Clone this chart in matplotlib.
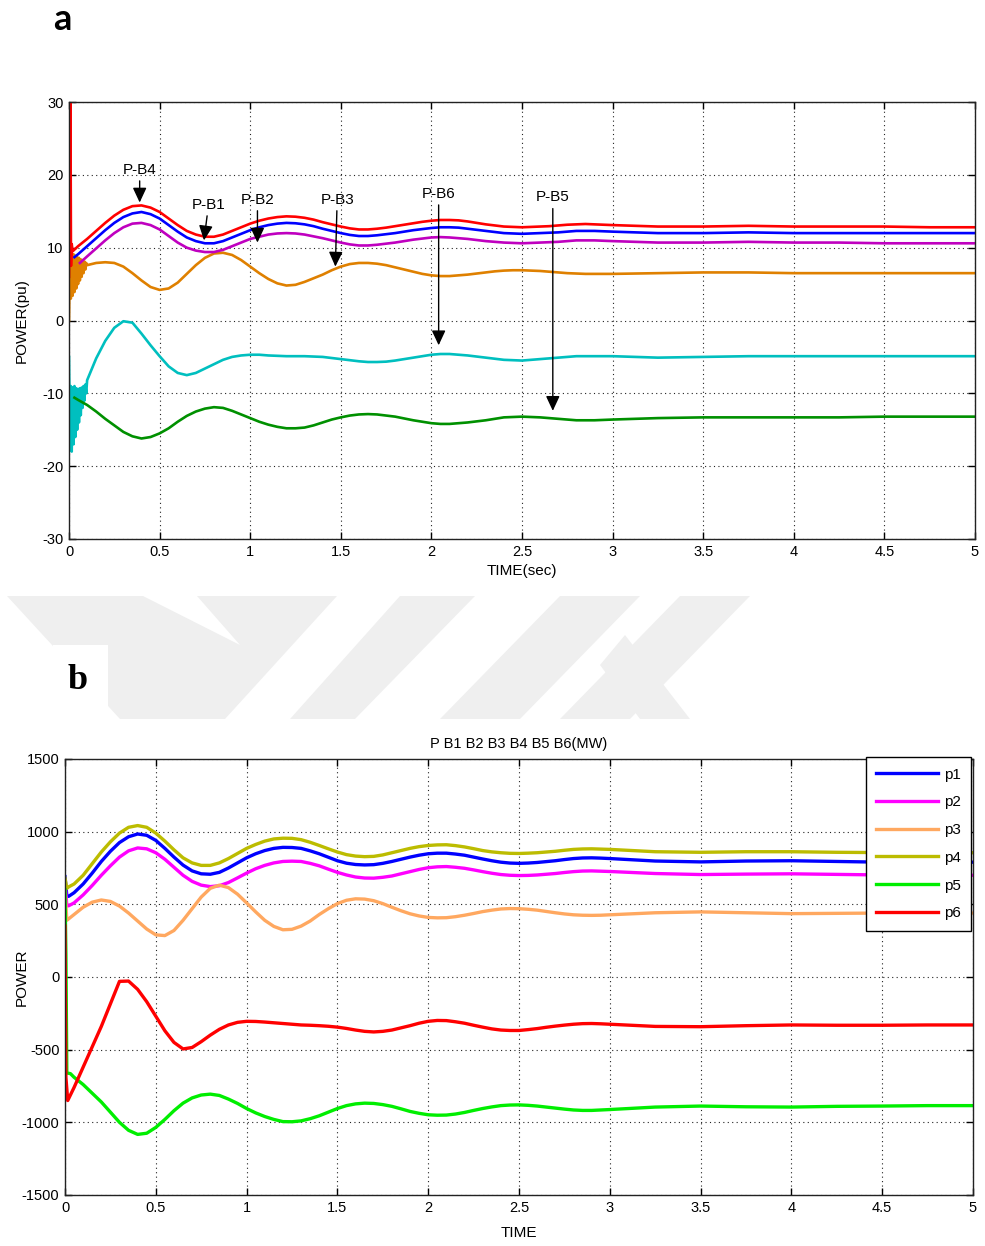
import matplotlib
matplotlib.use('Agg')
import matplotlib.pyplot as plt
from matplotlib.patches import Polygon, Rectangle
from matplotlib.lines import Line2D

plt.rcParams['font.family'] = ['Liberation Sans', 'DejaVu Sans']
plt.rcParams['axes.unicode_minus'] = False

# common time grid (sec) for the smooth part of every trace
t_grid = [0.1, 0.15, 0.2, 0.25, 0.3, 0.35, 0.4, 0.45, 0.5, 0.55, 0.6, 0.65, 0.7, 0.75, 0.8,
          0.85, 0.9, 0.95, 1.0,
          1.05, 1.1, 1.15, 1.2, 1.25, 1.3, 1.35, 1.4, 1.45, 1.5, 1.55, 1.6, 1.65, 1.7, 1.75,
          1.8, 1.85, 1.9, 1.95, 2.0, 2.05, 2.1, 2.15, 2.2, 2.25, 2.3, 2.35, 2.4, 2.45, 2.5,
          2.55, 2.6, 2.65, 2.7, 2.75, 2.8, 2.85, 2.9, 2.95, 3.0,
          3.25, 3.5, 3.75, 4.0, 4.25, 4.5, 4.75, 5.0]
# fine time steps for the start-up ripple
t_osc = [0.0, 0.005, 0.01, 0.015, 0.02, 0.025, 0.03, 0.035, 0.04, 0.045, 0.05, 0.055, 0.06,
         0.065, 0.07, 0.075, 0.08, 0.085, 0.09, 0.095]

# ---- panel a : power in pu ----
pb4_t0 = [0.0, 0.008, 0.011, 0.015, 0.02, 0.05]
pb4_v0 = [6.0, 31.0, 7.5, 10.5, 9.5, 10.2]
pb4 = [11.2, 12.3, 13.4, 14.4, 15.2, 15.7, 15.8, 15.5, 14.9, 14.0, 13.1, 12.3, 11.8, 11.5, 11.5,
       11.8, 12.3, 12.8, 13.3,
       13.7, 14.0, 14.2, 14.3, 14.25, 14.1, 13.85, 13.5, 13.2, 12.9, 12.65, 12.5, 12.5, 12.6,
       12.75, 12.95, 13.15, 13.35, 13.55, 13.7, 13.8, 13.8, 13.75, 13.6, 13.4, 13.2, 13.05,
       12.9, 12.85, 12.8, 12.85, 12.9, 12.95, 13.05, 13.15, 13.2, 13.25, 13.2, 13.15, 13.1,
       12.9, 12.9, 13.0, 12.9, 12.9, 12.9, 12.8, 12.8]

pb1_t0 = [0.03, 0.05]
pb1_v0 = [8.7, 9.1]
pb1 = [10.2, 11.3, 12.4, 13.4, 14.2, 14.7, 14.9, 14.6, 14.0, 13.1, 12.2, 11.4, 10.9, 10.6, 10.6,
       10.9, 11.4, 11.9, 12.4,
       12.8, 13.1, 13.3, 13.4, 13.35, 13.2, 12.95, 12.6, 12.3, 12.0, 11.75, 11.6, 11.6, 11.7,
       11.85, 12.0, 12.2, 12.4, 12.55, 12.7, 12.8, 12.8, 12.75, 12.6, 12.45, 12.3, 12.15,
       12.0, 11.95, 11.9, 11.95, 12.0, 12.05, 12.1, 12.2, 12.3, 12.3, 12.3, 12.25, 12.2,
       12.0, 12.0, 12.1, 12.0, 12.0, 12.0, 12.0, 12.0]

pb2_t0 = [0.06]
pb2_v0 = [7.9]
pb2 = [8.8, 9.9, 11.0, 12.0, 12.8, 13.3, 13.4, 13.1, 12.5, 11.6, 10.7, 10.0, 9.6, 9.4, 9.4,
       9.7, 10.2, 10.7, 11.2,
       11.5, 11.8, 11.95, 12.0, 11.95, 11.8, 11.55, 11.3, 11.0, 10.7, 10.45, 10.3, 10.3, 10.4,
       10.55, 10.7, 10.9, 11.1, 11.25, 11.4, 11.45, 11.4, 11.3, 11.2, 11.05, 10.9, 10.8,
       10.7, 10.65, 10.6, 10.65, 10.7, 10.75, 10.8, 10.9, 11.0, 11.0, 11.0, 10.95, 10.9,
       10.7, 10.7, 10.8, 10.7, 10.7, 10.6, 10.6, 10.6]

pb3_v0 = [0.0, 9.0, 3.0, 9.2, 3.4, 9.1, 3.9, 8.9, 4.4, 8.7, 5.0, 8.6, 5.5, 8.4, 6.0, 8.3, 6.5,
          8.1, 7.0, 7.9]
pb3 = [7.6, 7.9, 8.0, 7.9, 7.4, 6.5, 5.5, 4.6, 4.2, 4.4, 5.2, 6.4, 7.6, 8.6, 9.2, 9.3, 9.0,
       8.3, 7.4,
       6.5, 5.7, 5.1, 4.8, 4.9, 5.3, 5.8, 6.3, 6.9, 7.4, 7.75, 7.9, 7.9, 7.8, 7.6, 7.3, 7.0,
       6.7, 6.4, 6.2, 6.1, 6.1, 6.2, 6.3, 6.45, 6.6, 6.75, 6.85, 6.9, 6.9, 6.85, 6.8, 6.7,
       6.6, 6.5, 6.45, 6.4, 6.4, 6.4, 6.4,
       6.5, 6.6, 6.6, 6.5, 6.5, 6.5, 6.5, 6.5]

pb6_v0 = [-5.0, -17.5, -9.0, -18.0, -9.2, -17.0, -9.0, -16.0, -9.3, -15.0, -9.4, -14.0, -9.3,
          -13.0, -9.2, -12.0, -9.0, -11.0, -8.8, -10.0]
pb6 = [-8.2, -5.2, -2.8, -1.0, -0.1, -0.3, -1.8, -3.4, -4.9, -6.3, -7.2, -7.5, -7.2, -6.6,
       -6.0, -5.4, -5.0, -4.8, -4.7,
       -4.7, -4.8, -4.85, -4.9, -4.9, -4.9, -4.95, -5.0, -5.15, -5.3, -5.45, -5.6, -5.7, -5.7,
       -5.65, -5.5, -5.3, -5.1, -4.9, -4.7, -4.6, -4.6, -4.7, -4.8, -4.95, -5.1, -5.25, -5.4,
       -5.45, -5.5, -5.4, -5.3, -5.2, -5.1, -5.0, -4.9, -4.9, -4.9, -4.9, -4.9,
       -5.1, -5.0, -4.9, -4.9, -4.9, -4.9, -4.9, -4.9]

pb5_t0 = [0.03, 0.05]
pb5_v0 = [-10.6, -10.9]
pb5 = [-11.6, -12.5, -13.5, -14.4, -15.3, -15.9, -16.2, -16.0, -15.5, -14.8, -13.9, -13.1,
       -12.5, -12.1, -11.9, -12.0, -12.4, -12.9, -13.4,
       -13.9, -14.3, -14.6, -14.8, -14.8, -14.7, -14.4, -14.0, -13.6, -13.3, -13.05, -12.9,
       -12.85, -12.9, -13.05, -13.2, -13.45, -13.7, -13.9, -14.1, -14.2, -14.2, -14.1, -14.0,
       -13.85, -13.7, -13.5, -13.3, -13.25, -13.2, -13.25, -13.3, -13.4, -13.5, -13.6, -13.7,
       -13.7, -13.7, -13.65, -13.6,
       -13.4, -13.3, -13.3, -13.3, -13.3, -13.2, -13.2, -13.2]

# ---- panel b : power in MW ----
t0_b = [0.0, 0.01, 0.02, 0.05]
p1_v0 = [690, 560, 555, 580]
p1 = [640, 715, 795, 865, 925, 965, 984, 975, 940, 885, 825, 770, 730, 710, 707, 720, 750,
      785, 820,
      848, 870, 885, 892, 891, 885, 868, 848, 824, 800, 783, 774, 771, 773, 782, 795, 810,
      825, 838, 848, 852, 852, 846, 838, 825, 812, 800, 790, 784, 782, 784, 788, 794, 800,
      808, 815, 819, 820, 818, 815,
      798, 792, 798, 800, 795, 790, 790, 790]
p2_v0 = [650, 490, 490, 510]
p2 = [565, 630, 700, 765, 825, 868, 888, 882, 855, 810, 755, 700, 658, 632, 622, 628, 650,
      682, 715,
      745, 768, 785, 795, 797, 795, 782, 765, 742, 720, 702, 688, 681, 680, 686, 695, 710,
      725, 740, 752, 758, 760, 755, 748, 737, 725, 714, 705, 700, 698, 699, 702, 707, 712,
      719, 725, 729, 730, 728, 726,
      712, 705, 708, 710, 706, 702, 700, 700]
p3_v0 = [600, 390, 400, 430]
p3 = [480, 515, 530, 520, 488, 440, 385, 330, 290, 285, 320, 390, 470, 550, 610, 632, 615,
      570, 510,
      448, 390, 348, 325, 328, 350, 385, 430, 470, 505, 528, 538, 536, 525, 505, 480, 456,
      435, 420, 410, 407, 408, 415, 425, 437, 450, 460, 468, 471, 470, 466, 460, 451, 442,
      434, 428, 425, 424, 425, 428,
      442, 448, 442, 436, 438, 440, 440, 440]
p4_v0 = [680, 610, 620, 640]
p4 = [700, 780, 860, 930, 990, 1030, 1042, 1030, 990, 935, 875, 820, 785, 768, 768, 785, 815,
      850, 885,
      912, 935, 950, 955, 954, 945, 927, 905, 882, 860, 842, 832, 828, 830, 840, 855, 870,
      885, 897, 905, 909, 910, 904, 895, 883, 870, 861, 855, 851, 850, 852, 855, 860, 865,
      872, 878, 881, 882, 880, 878,
      862, 858, 862, 862, 858, 856, 855, 855]
p5_t0 = [0.0, 0.005, 0.01, 0.03, 0.05]
p5_v0 = [600, 150, -660, -665, -690]
p5 = [-740, -800, -860, -930, -1000, -1055, -1083, -1075, -1035, -980, -920, -868, -832, -812,
      -806, -815, -840, -870, -905,
      -935, -960, -980, -995, -996, -990, -975, -955, -930, -905, -885, -873, -868, -870,
      -878, -890, -907, -925, -938, -948, -951, -950, -943, -932, -918, -905, -894, -885,
      -881, -880, -883, -888, -895, -902, -909, -915, -918, -918, -915, -912,
      -895, -888, -893, -895, -890, -888, -885, -885]
p6_t0 = [0.0, 0.005, 0.015, 0.05]
p6_v0 = [350, -690, -850, -760]
p6 = [-620, -480, -340, -185, -30, -28, -85, -170, -270, -370, -450, -495, -485, -445, -400,
      -360, -330, -312, -305,
      -306, -310, -315, -320, -325, -330, -332, -335, -339, -345, -354, -365, -374, -378,
      -374, -365, -350, -335, -318, -305, -299, -300, -308, -318, -332, -345, -357, -365,
      -368, -368, -362, -355, -346, -338, -331, -325, -321, -320, -322, -325,
      -340, -342, -335, -330, -332, -332, -330, -330]

labels_b = ['p1', 'p2', 'p3', 'p4', 'p5', 'p6']

W, H = 985, 1246
fig = plt.figure(figsize=(W / 100, H / 100), dpi=100)

def fpx(x, y):
    # figure pixel (top-left origin) -> figure fraction
    return (x / W, 1 - y / H)

# faint watermark behind the panels
wm = [[(7, 596), (143, 596), (240, 645), (197, 596), (337, 596), (225, 719), (120, 719)],
      [(400, 596), (475, 596), (355, 719), (290, 719)],
      [(560, 596), (640, 596), (520, 719), (440, 719)],
      [(680, 596), (750, 596), (630, 719), (560, 719)],
      [(600, 665), (625, 635), (690, 719), (640, 719)]]
for poly in wm:
    fig.add_artist(Polygon([fpx(*p) for p in poly], closed=True, transform=fig.transFigure,
                           facecolor='#efefef', edgecolor='none', zorder=0))
x0, y0 = fpx(53, 719)
fig.add_artist(Rectangle((x0, y0), 55 / W, 74 / H, transform=fig.transFigure,
                         facecolor='white', edgecolor='none', zorder=0.5))


def style(ax, ylim, yticks):
    ax.set_xlim(0, 5)
    ax.set_ylim(*ylim)
    ax.set_xticks([0, 0.5, 1, 1.5, 2, 2.5, 3, 3.5, 4, 4.5, 5])
    ax.set_xticklabels(['0', '0.5', '1', '1.5', '2', '2.5', '3', '3.5', '4', '4.5', '5'])
    ax.set_yticks(yticks)
    ax.tick_params(direction='in', top=True, right=True, length=5, width=1,
                   labelsize=10.5, pad=4)
    ax.grid(True, linestyle=(0, (1, 3)), color='#222222', linewidth=0.8)
    for s in ax.spines.values():
        s.set_linewidth(1)
        s.set_color('#222222')


# ---------------- panel a ----------------
ax = fig.add_axes([69 / W, 1 - 539 / H, 906 / W, 437 / H])
style(ax, (-30, 30), [-30, -20, -10, 0, 10, 20, 30])
lw_a = 1.9
ax.plot(t_osc + t_grid, pb3_v0 + pb3, color='#df8000', lw=lw_a)
ax.plot(t_osc + t_grid, pb6_v0 + pb6, color='#00bfbf', lw=lw_a)
ax.plot(pb5_t0 + t_grid, pb5_v0 + pb5, color='#009000', lw=lw_a)
ax.plot(pb2_t0 + t_grid, pb2_v0 + pb2, color='#bf00bf', lw=lw_a)
ax.plot(pb1_t0 + t_grid, pb1_v0 + pb1, color='#0000ff', lw=lw_a)
ax.plot(pb4_t0 + t_grid, pb4_v0 + pb4, color='#ff0000', lw=lw_a)

# arrow labels: (text, text position, arrow tip)
notes = [('P-B4', (0.39, 20.7), (0.39, 16.2)),
         ('P-B1', (0.77, 15.9), (0.745, 11.0)),
         ('P-B2', (1.04, 16.6), (1.04, 10.7)),
         ('P-B3', (1.48, 16.6), (1.47, 7.4)),
         ('P-B6', (2.04, 17.4), (2.04, -3.4)),
         ('P-B5', (2.67, 16.9), (2.67, -12.4))]
for txt, xyt, xy in notes:
    ax.annotate(txt, xy=xy, xytext=xyt, ha='center', va='center', fontsize=11,
                arrowprops=dict(arrowstyle='-|>,head_length=0.6,head_width=0.28',
                                color='black', lw=1, mutation_scale=15,
                                shrinkA=1, shrinkB=0))
ax.set_xlabel('TIME(sec)', fontsize=11)
ax.set_ylabel('POWER(pu)', fontsize=11)
ax.xaxis.set_label_coords(0.5, -0.058)
ax.yaxis.set_label_coords(-0.044, 0.5)

fig.text(62 / W, 1 - 19 / H, 'a', fontsize=26, fontweight='bold', family='Lato',
         ha='center', va='center')

# ---------------- panel b ----------------
bx = fig.add_axes([65 / W, 1 - 1195 / H, 908 / W, 436 / H])
style(bx, (-1500, 1500), [-1500, -1000, -500, 0, 500, 1000, 1500])
lw_b = 2.4
cols_b = ['#0000ff', '#ff00ff', '#ffa860', '#bcbc00', '#00ee00', '#ff0000']
bx.plot(t0_b + t_grid, p1_v0 + p1, color=cols_b[0], lw=lw_b)
bx.plot(t0_b + t_grid, p2_v0 + p2, color=cols_b[1], lw=lw_b)
bx.plot(t0_b + t_grid, p3_v0 + p3, color=cols_b[2], lw=lw_b)
bx.plot(t0_b + t_grid, p4_v0 + p4, color=cols_b[3], lw=lw_b)
bx.plot(p5_t0 + t_grid, p5_v0 + p5, color=cols_b[4], lw=lw_b)
bx.plot(p6_t0 + t_grid, p6_v0 + p6, color=cols_b[5], lw=lw_b)
hands = [Line2D([], [], color=c, lw=2.4) for c in cols_b]
leg = bx.legend(hands, labels_b, loc='upper right', bbox_to_anchor=(0.998, 1.005),
                fontsize=11, handlelength=4, handletextpad=0.4, labelspacing=0.9,
                borderpad=0.7, borderaxespad=0, fancybox=False, framealpha=1,
                edgecolor='black')
leg.get_frame().set_linewidth(1)
bx.set_title('P B1 B2 B3 B4 B5 B6(MW)', fontsize=10.5, pad=8)
bx.set_xlabel('TIME', fontsize=11)
bx.set_ylabel('POWER', fontsize=11)
bx.xaxis.set_label_coords(0.5, -0.072)
bx.yaxis.set_label_coords(-0.04, 0.5)

fig.text(78 / W, 1 - 680 / H, 'b', fontsize=26, fontweight='bold', family='Liberation Serif',
         ha='center', va='center')

fig.savefig('out.png', dpi=100)
